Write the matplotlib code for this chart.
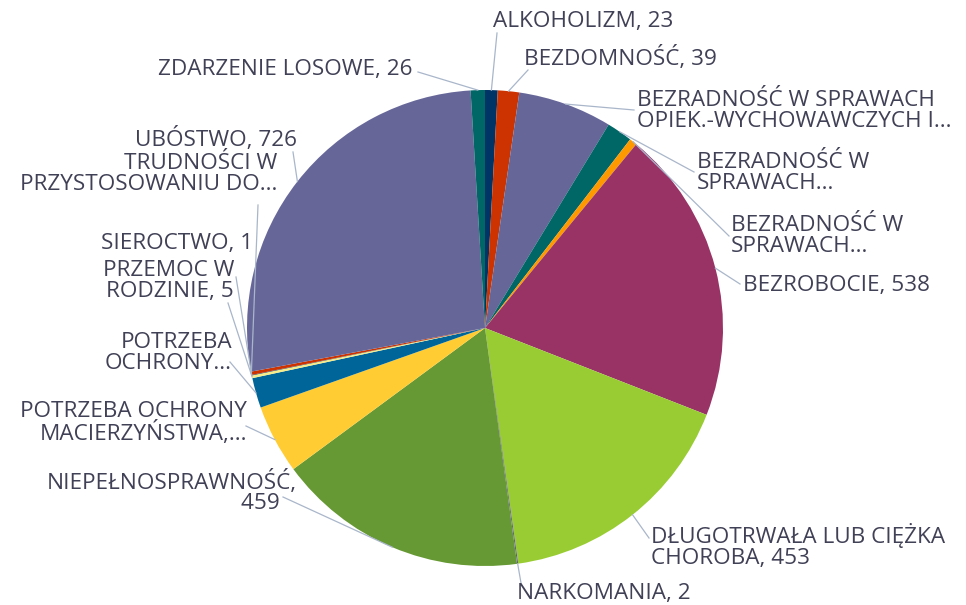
import numpy as np
import matplotlib
matplotlib.use('Agg')
import matplotlib.pyplot as plt

# dane
kategorie = ['ALKOHOLIZM', 'BEZDOMNOŚĆ',
             'BEZRADNOŚĆ W SPRAWACH\nOPIEK.-WYCHOWAWCZYCH I...',
             'BEZRADNOŚĆ W\nSPRAWACH...', 'BEZRADNOŚĆ W\nSPRAWACH...',
             'BEZROBOCIE', 'DŁUGOTRWAŁA LUB CIĘŻKA\nCHOROBA', 'NARKOMANIA',
             'NIEPEŁNOSPRAWNOŚĆ,\n', 'POTRZEBA OCHRONY\nMACIERZYŃSTWA,...',
             'POTRZEBA\nOCHRONY...', 'PRZEMOC W\nRODZINIE', 'SIEROCTWO',
             'TRUDNOŚCI W\nPRZYSTOSOWANIU DO...', 'UBÓSTWO', 'ZDARZENIE LOSOWE']
wartosci = [23, 39, 172, 47, 14, 538, 453, 2, 459, 126, 55, 5, 1, 6, 726, 26]
pokaz_wartosc = [True, True, False, False, False, True, True, True,
                 True, False, False, True, True, False, True, True]
kolory = ['#003366', '#CC3300', '#666699', '#006666', '#FF9900', '#993366',
          '#99CC33', '#5E5A8E', '#669933', '#FFCC33', '#006699', '#F5EC8A',
          '#003366', '#CC3300', '#666699', '#006666']

W, H = 966, 605
cx, cy, R = 485, 328, 238

# pozycje etykiet (px): x, y, wyrownanie, koniec linii
etyk = [(493, 22, 'left', (497, 33)),
        (524, 58, 'left', (528, 70)),
        (637, 111, 'left', (634, 110)),
        (697, 173, 'left', (694, 172)),
        (731, 236, 'left', (729, 236)),
        (743, 285, 'left', (740, 284)),
        (651, 546, 'left', (649, 538)),
        (517, 594, 'left', (521, 583)),
        (297, 492, 'right', (283, 497)),
        (247, 423, 'right', (246, 426)),
        (232, 353, 'right', (230, 362)),
        (234, 281, 'right', (228, 303)),
        (253, 244, 'right', (236, 277)),
        (277, 174, 'right', (258, 205)),
        (297, 139, 'right', (293, 152)),
        (413, 70, 'right', (418, 72))]

def px(x, y):
    return x, H - y

fig = plt.figure(figsize=(W / 100, H / 100), dpi=100)
ax = fig.add_axes([0, 0, 1, 1])

wedges, _ = ax.pie(wartosci, colors=kolory, startangle=90, counterclock=False,
                   center=px(cx, cy), radius=R, frame=True,
                   wedgeprops=dict(linewidth=0))
ax.set_xlim(0, W)
ax.set_ylim(0, H)
ax.set_aspect('equal')
ax.axis('off')

kolor_txt = '#404056'
for w, kat, wart, pok, (tx, ty, ha, kon) in zip(wedges, kategorie, wartosci,
                                                  pokaz_wartosc, etyk):
    th = np.deg2rad((w.theta1 + w.theta2) / 2)
    x0 = cx + R * np.cos(th)
    y0 = H - cy + R * np.sin(th)
    ex, ey = px(*kon)
    ax.plot([x0, ex], [y0, ey], color='#A9B6CA', lw=0.9, zorder=1)
    if pok:
        if kat.endswith('\n'):
            tekst = kat + str(wart) + '   '
        else:
            tekst = kat + ', ' + str(wart)
    else:
        tekst = kat
    ax.text(*px(tx, ty), tekst, ha=ha, va='center', fontsize=16.2,
            family='Open Sans', color=kolor_txt, linespacing=0.95,
            multialignment=ha)

fig.savefig('out.png', dpi=100)
